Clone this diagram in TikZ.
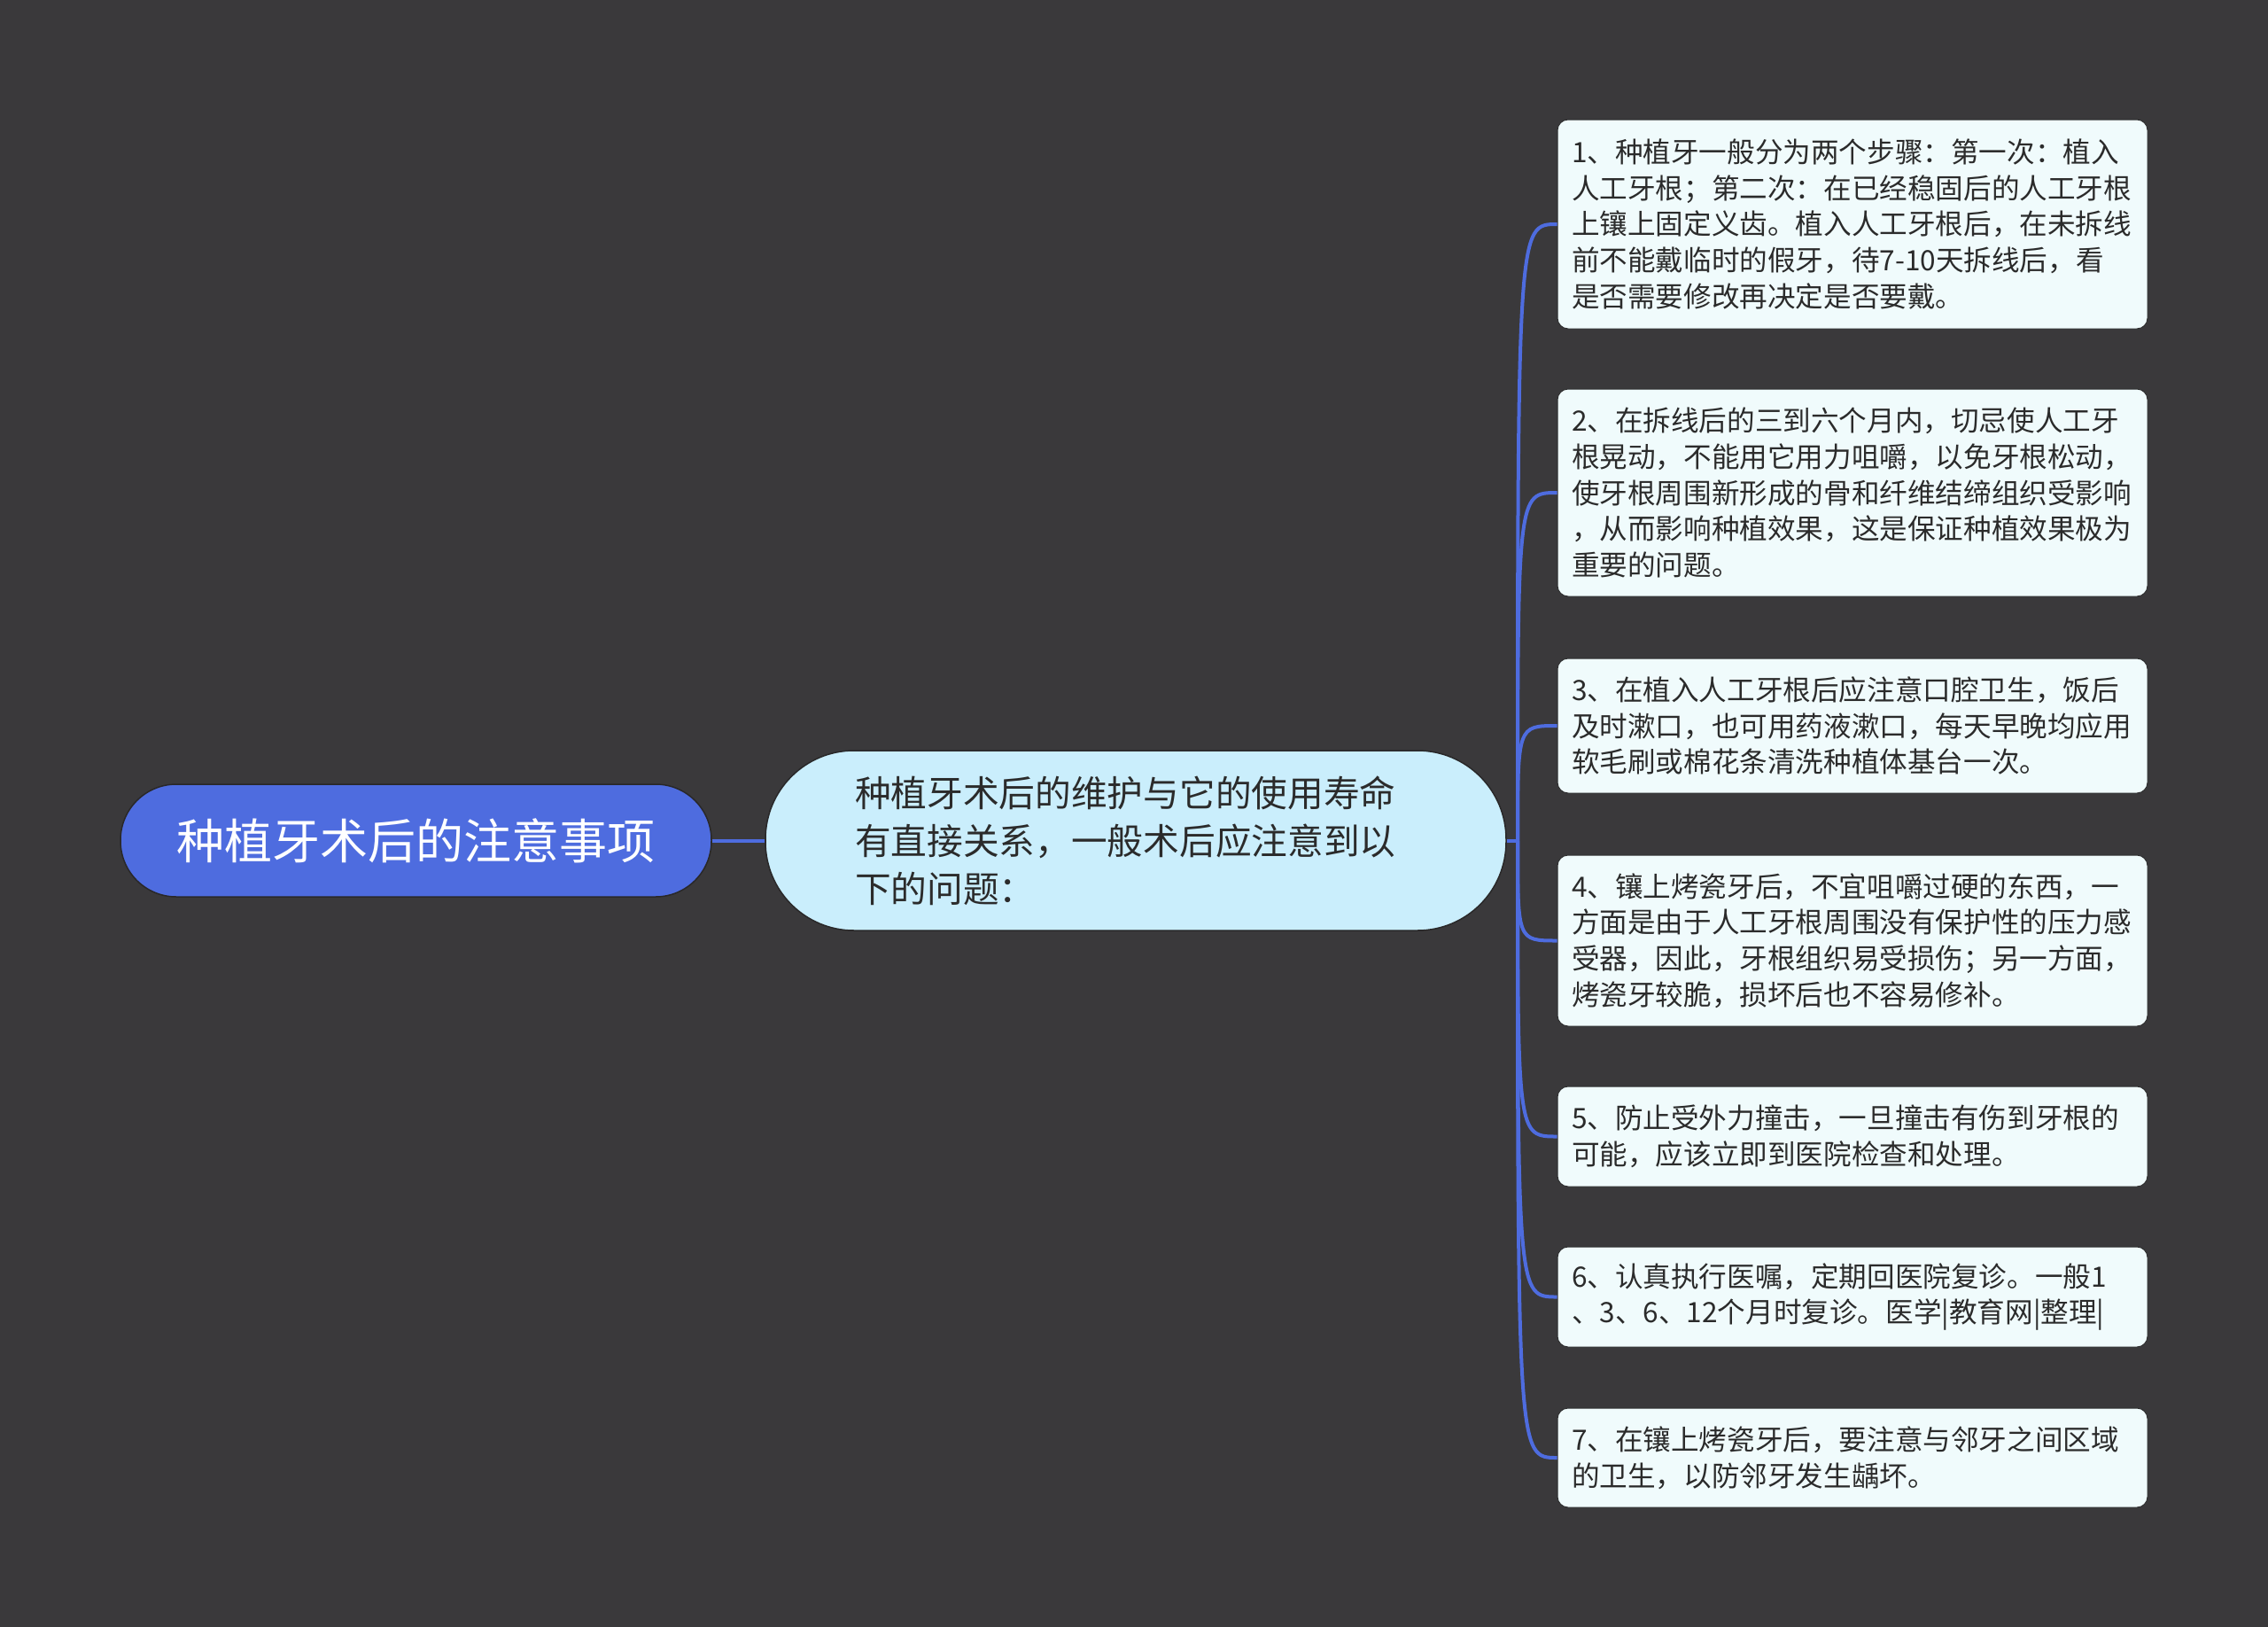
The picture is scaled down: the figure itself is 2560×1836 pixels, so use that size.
\documentclass[tikz,border=0pt]{standalone}
\usepackage{fontspec}
\newfontfamily\cjk{Noto Sans CJK SC}
\definecolor{bgc}{HTML}{3A393B}
\definecolor{rootc}{HTML}{4E6CDF}
\definecolor{midc}{HTML}{CAEEFC}
\definecolor{leafc}{HTML}{F0FBFC}
\definecolor{txtc}{HTML}{2B2B2B}
\definecolor{linec}{HTML}{4E6CDF}
\tikzset{
  rootbox/.style={fill=rootc, draw=bgc!70!black, line width=1.5pt, rounded corners=63pt,
    minimum width=667pt, minimum height=127pt, text width=560pt, align=center,
    text=white, font=\cjk\fontsize{54}{64}\selectfont, inner sep=0pt},
  midbox/.style={fill=midc, draw=bgc!70!black, line width=1.5pt, rounded corners=100pt,
    minimum width=836pt, minimum height=203pt, text width=634pt, align=left,
    text=txtc, font=\cjk\fontsize{40.7}{54}\selectfont, inner sep=0pt},
  leafbox/.style={fill=leafc, draw=bgc!80!black, line width=1pt, rounded corners=12pt,
    minimum width=666pt, text width=634pt, align=left, inner xsep=16pt, inner ysep=0pt,
    text=txtc, font=\cjk\fontsize{31.6}{40.8}\selectfont},
  conn/.style={draw=linec, line width=4pt}
}
\begin{document}
\begin{tikzpicture}[x=1pt,y=-1pt]
\fill[bgc] (0,0) rectangle (2560,1836);
\useasboundingbox (0,0) rectangle (2560,1836);

\coordinate (fork) at (1713,948.5);
\node[rootbox] (root) at (469.5,948.5) {种植牙术后的注意事项};
\node[midbox] (mid) at (1282,948.5) {种植牙术后的维护与它的使用寿命\\有直接关系，一般术后应注意到以\\下的问题：};

\node[leafbox, minimum height=236pt] (b1) at (2091,253) {1、种植牙一般分为两个步骤：第一次：植入\\人工牙根；第二次：在已经稳固后的人工牙根\\上镶上固定义齿。植入人工牙根后，在未拆线\\前不能戴临时的假牙，待7-10天拆线后，看\\是否需要修改再决定是否要戴。};
\node[leafbox, minimum height=234pt] (b2) at (2091,556) {2、在拆线后的三到六个月内，切忌使人工牙\\根晃动，不能用它用力咀嚼，以免牙根松动，\\使牙根周围新形成的骨和纤维结缔组织受影响\\，从而影响种植效果，这是保证种植效果极为\\重要的问题。};
\node[leafbox, minimum height=152pt] (b3) at (2091,819) {3、在植入人工牙根后应注意口腔卫生，饭后\\及时漱口，也可用药液漱口，每天早晚均应用\\软毛刷或棉花条清洗种植体基台一次。};
\node[leafbox, minimum height=193pt] (b4) at (2091,1061.5) {4、镶上烤瓷牙后，不宜咀嚼过硬的东西，一\\方面是由于人工牙根周围没有保护性的压力感\\受器，因此，牙根组织易受损伤；另一方面，\\烤瓷牙较脆，损坏后也不容易修补。};
\node[leafbox, minimum height=113pt] (b5) at (2091,1282.5) {5、防止受外力撞击，一旦撞击有伤到牙根的\\可能，应该立即到医院检查和处理。};
\node[leafbox, minimum height=113pt] (b6) at (2091,1463.5) {6、认真执行医嘱，定期回医院复诊。一般1\\、3、6、12个月时复诊。医学|教育网|整理|};
\node[leafbox, minimum height=112pt] (b7) at (2091,1645) {7、在镶上烤瓷牙后，要注意与邻牙之间区域\\的卫生，以防邻牙发生龋坏。};

\begin{scope}[on background layer/.style={}]
\draw[conn] (root.east) -- (mid.west);
\draw[conn] (mid.east) -- (fork);
\foreach \b in {b1,b2,b3,b4,b5,b6,b7}{
  \draw[conn] (fork) .. controls (fork |- \b.west) .. (\b.west);
}
\end{scope}
\end{tikzpicture}
\end{document}
